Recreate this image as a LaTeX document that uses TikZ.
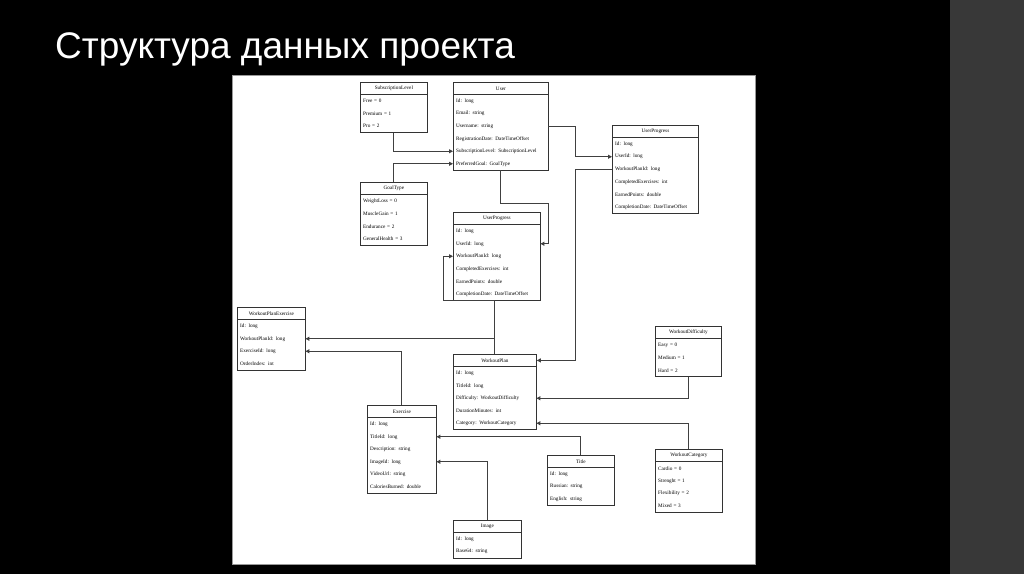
\documentclass[tikz,border=0pt]{standalone}
\usepackage{fontspec}
\setmainfont{Liberation Serif}
\setsansfont{Liberation Sans}
\usetikzlibrary{arrows.meta,calc}
\tikzset{
 hdr/.style={draw=black!80,line width=0.8pt,fill=white,minimum height=12pt,inner sep=0pt,font=\fontsize{5.2}{5.5}\selectfont,anchor=north west},
 rowtxt/.style={minimum height=12.5pt,inner sep=0pt,font=\fontsize{5.2}{5.5}\selectfont,anchor=north west,align=left,text width=#1},
 conn/.style={draw=black!75,line width=0.9pt,-{Triangle[length=4pt,width=4pt]}}
}
\newcommand\umlbox[6]{%
 \node[hdr,minimum width=#4 pt] (#1) at (#2,#3) {#5};
 \foreach \r [count=\i] in {#6}{%
  \node[rowtxt=#4 pt-6pt,xshift=3pt] (#1-\i) at ($(#1.south west)+(0,{(\i-1)*12.5})$) {\r};
  \xdef\lastrow{\i}%
 }%
 \draw[black!80,line width=0.8pt] (#1.north west) rectangle ($(#1-\lastrow.south east)+(3pt,0)$);
}
\begin{document}
\begin{tikzpicture}[x=1pt,y=-1pt]
\useasboundingbox (0,0) rectangle (1024,574);
\fill[black] (0,0) rectangle (1024,574);
\fill[black!78] (950,0) rectangle (1024,574);
\node[anchor=west,text=white,font=\sffamily\fontsize{37}{40}\selectfont,inner sep=0pt] (title) at (55,49) {Структура данных проекта};
\fill[white,draw=black!40] (232,75) rectangle (755,564);
\umlbox{SL}{360}{82}{67}{SubscriptionLevel}{Free = 0,Premium = 1,Pro = 2}
\umlbox{User}{453}{82}{95}{User}{Id: long,Email: string,Username: string,RegistrationDate: DateTimeOffset,SubscriptionLevel: SubscriptionLevel,PreferredGoal: GoalType}
\umlbox{GT}{360}{182}{67}{GoalType}{WeightLoss = 0,MuscleGain = 1,Endurance = 2,GeneralHealth = 3}
\umlbox{UP}{453}{212}{87}{UserProgress}{Id: long,UserId: long,WorkoutPlanId: long,CompletedExercises: int,EarnedPoints: double,CompletionDate: DateTimeOffset}
\umlbox{UPg}{612}{125}{86}{UserProgress}{Id: long,UserId: long,WorkoutPlanId: long,CompletedExercises: int,EarnedPoints: double,CompletionDate: DateTimeOffset}
\umlbox{WPE}{237}{307}{68}{WorkoutPlanExercise}{Id: long,WorkoutPlanId: long,ExerciseId: long,OrderIndex: int}
\umlbox{WP}{453}{354}{83}{WorkoutPlan}{Id: long,TitleId: long,Difficulty: WorkoutDifficulty,DurationMinutes: int,Category: WorkoutCategory}
\umlbox{WD}{655}{326}{66}{WorkoutDifficulty}{Easy = 0,Medium = 1,Hard = 2}
\umlbox{Ex}{367}{405}{69}{Exercise}{Id: long,TitleId: long,Description: string,ImageId: long,VideoUrl: string,CaloriesBurned: double}
\umlbox{Ti}{547}{455}{67}{Title}{Id: long,Russian: string,English: string}
\umlbox{WC}{655}{449}{67}{WorkoutCategory}{Cardio = 0,Strenght = 1,Flexibility = 2,Mixed = 3}
\umlbox{Im}{453}{520}{68}{Image}{Id: long,Base64: string}
\draw[conn] (SL-3.south) |- ($(User-5.west)+(-3,0)$);
\draw[conn] (GT.north) |- ($(User-6.west)+(-3,0)$);
\draw[conn] (User-6.south) -- ++(0,33) -| ($(UP-2.east)+(11,0)$) -- ($(UP-2.east)+(3,0)$);
\draw[conn] ($(User-3.east)+(3,0)$) -- ++(27,0) |- ($(UPg-2.west)+(-3,0)$);
\draw[conn] ($(UPg-3.west)+(-3,0)$) -- ++(-37,0) |- (WP.east);
\draw[conn] (WP.north) -- ++(0,-54) -| ($(UP-3.west)+(-13,0)$) -- ($(UP-3.west)+(-3,0)$);
\draw[conn] (WP.north) |- ($(WPE-2.east)+(3,0)$);
\draw[conn] (Ex.north) |- ($(WPE-3.east)+(3,0)$);
\draw[conn] (WD-3.south -| WD.north) |- ($(WP-3.east)+(3,0)$);
\draw[conn] (WC.north) |- ($(WP-5.east)+(3,0)$);
\draw[conn] (Ti.north) |- ($(Ex-2.east)+(3,0)$);
\draw[conn] (Im.north) |- ($(Ex-4.east)+(3,0)$);
\end{tikzpicture}
\end{document}
